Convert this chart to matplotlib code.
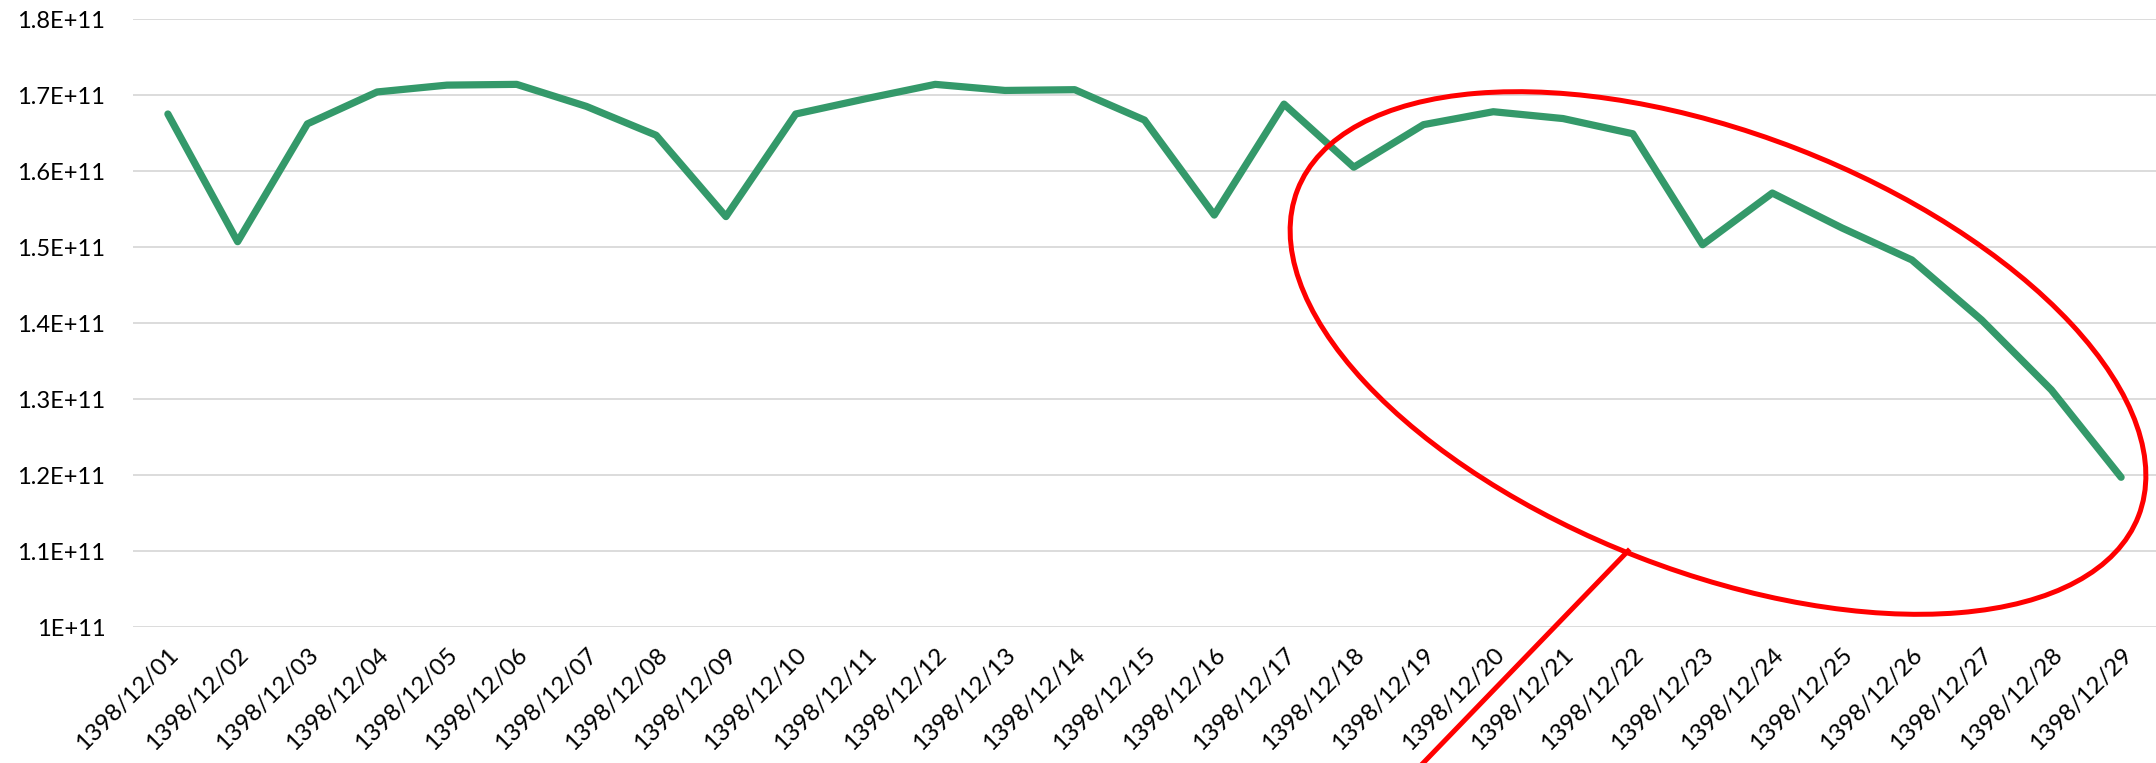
import matplotlib
matplotlib.use("Agg")
import matplotlib.pyplot as plt
from matplotlib.patches import Ellipse
from matplotlib.lines import Line2D
from matplotlib.ticker import FuncFormatter, MultipleLocator

# ---- data ----
dates = ["1398/12/%02d" % d for d in range(1, 30)]
values = [1.675, 1.507, 1.662, 1.704, 1.713, 1.714, 1.685, 1.647, 1.540,
          1.675, 1.695, 1.714, 1.706, 1.707, 1.667, 1.542, 1.688, 1.605,
          1.661, 1.678, 1.669, 1.649, 1.503, 1.571, 1.525, 1.483, 1.404,
          1.312, 1.197]
values = [v * 1e11 for v in values]
y_min, y_max, y_step = 1.0e11, 1.8e11, 0.1e11

plt.rcParams['font.family'] = ['Lato', 'DejaVu Sans']

W, H, DPI = 2156, 763, 100
fig = plt.figure(figsize=(W / DPI, H / DPI), dpi=DPI)
ax = fig.add_axes([133 / W, 1 - 627 / H, 1 - 133 / W, (627 - 19) / H])

x = list(range(len(dates)))
ax.plot(x, values, color='#34996a', linewidth=5.2, solid_joinstyle='round',
        solid_capstyle='round', zorder=3)

ax.set_xlim(-0.5, len(dates) - 0.5)
ax.set_ylim(y_min, y_max)
ax.yaxis.set_major_locator(MultipleLocator(y_step))
ax.yaxis.set_major_formatter(FuncFormatter(lambda v, p: "%gE+11" % round(v / 1e11, 2)))
ax.grid(axis='y', color='#d9d9d9', linewidth=1.3)
ax.set_axisbelow(True)
for s in ax.spines.values():
    s.set_visible(False)

ax.set_xticks(x)
ax.set_xticklabels(dates, rotation=45, ha='right', va='top', rotation_mode='anchor')
ax.tick_params(axis='x', length=0, pad=12, labelsize=17.5, labelcolor='#000000')
ax.tick_params(axis='y', length=0, pad=20, labelsize=17, labelcolor='#000000')

# ---- red annotation ----
ell = Ellipse((1718 / DPI, (H - 353) / DPI), 902 / DPI, 438 / DPI, angle=-21.2,
              transform=fig.dpi_scale_trans, fill=False, edgecolor='#ff0000',
              linewidth=3.6, zorder=5, clip_on=False)
fig.add_artist(ell)
ptr = Line2D([1628 / DPI, 1400 / DPI], [(H - 551) / DPI, (H - 787) / DPI],
             transform=fig.dpi_scale_trans, color='#ff0000', linewidth=3.6,
             zorder=5, clip_on=False)
fig.add_artist(ptr)

fig.savefig("out.png", dpi=DPI, facecolor='white')
